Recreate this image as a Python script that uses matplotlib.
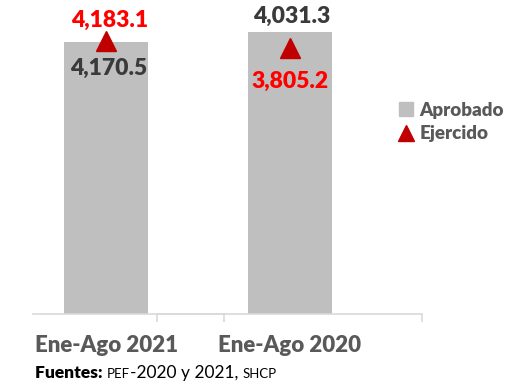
import matplotlib
matplotlib.use("Agg")
import matplotlib.pyplot as plt
from matplotlib.lines import Line2D
from matplotlib.patches import Patch

# gasto acumulado, millones de pesos
periodos = ["Ene-Ago 2021", "Ene-Ago 2020"]
aprobado = [4170.5, 4031.3]
ejercido = [4183.1, 3805.2]

gris = "#BFBFBF"
rojo = "#C00000"
texto_gris = "#3A3A3A"
peso = "heavy"

plt.rcParams["font.family"] = ["Lato", "DejaVu Sans"]

fig = plt.figure(figsize=(5.11, 3.86), dpi=100)
ax = fig.add_axes([33 / 511, 72 / 386, 389 / 511, 300 / 386])
ax2 = ax.twinx()

# cada periodo va en su propio eje vertical
for a, i, top in [(ax, 0, 4600), (ax2, 1, 4289)]:
    a.bar(i, aprobado[i], width=0.458, color=gris, zorder=1)
    a.plot(i, ejercido[i], marker="^", ms=14, color=rojo, ls="none", zorder=3, clip_on=False)
    a.set_ylim(0, top)
    a.set_yticks([])
    for s in ["top", "left", "right"]:
        a.spines[s].set_visible(False)
    a.spines["bottom"].set_color("#D9D9D9")
    a.spines["bottom"].set_linewidth(1.2)

ax.set_xlim(-0.4, 1.72)
ax.spines["bottom"].set_bounds(-0.4, 0.643)
ax2.spines["bottom"].set_bounds(0.278, 1.72)

ax.set_xticks([0, 1])
ax.set_xticklabels(periodos, fontsize=16, fontweight=peso, color="#595959")
ax.set_xticks([0.278, 0.643, 1.72], minor=True)
ax.tick_params(axis="x", which="major", length=0, pad=15)
ax.tick_params(axis="x", which="minor", length=6, width=1.2, color="#D9D9D9")

# etiquetas de valores
etq = dict(fontsize=16.5, fontweight=peso, ha="center", va="center",
           textcoords="offset points", annotation_clip=False)
ax.annotate(f"{ejercido[0]:,.1f}", (0.02, ejercido[0]), xytext=(0, 15), color="#FF0000", **etq)
ax.annotate(f"{aprobado[0]:,.1f}", (0.01, aprobado[0]), xytext=(0, -19), color=texto_gris, **etq)
ax2.annotate(f"{aprobado[1]:,.1f}", (1.01, aprobado[1]), xytext=(0, 11), color=texto_gris, **etq)
ax2.annotate(f"{ejercido[1]:,.1f}", (1.0, ejercido[1]), xytext=(0, -24), color="#FF0000", **etq)

handles = [Patch(color=gris, label="Aprobado"),
           Line2D([], [], marker="^", ms=11, color=rojo, ls="none", label="Ejercido")]
leg = fig.legend(handles=handles, loc="center left", bbox_to_anchor=(382 / 511, 1 - 122 / 386),
                 frameon=False, handlelength=0.75, handleheight=0.75, handletextpad=0.35,
                 labelspacing=0.35, prop={"size": 13.5, "weight": peso})
for t in leg.get_texts():
    t.set_color("#595959")

# fuentes, con siglas en versalitas
partes = [("Fuentes: ", 12.5, peso), ("PEF", 9.5, "normal"),
          ("-2020 y 2021, ", 12.5, "normal"), ("SHCP", 9.5, "normal")]
r = fig.canvas.get_renderer()
x = 35 / 511
for txt, tam, w in partes:
    t = fig.text(x, 1 - 378 / 386, txt, fontsize=tam, fontweight=w, color="black", va="baseline")
    x += t.get_window_extent(r).width / fig.bbox.width

fig.savefig("out.png", dpi=100)
